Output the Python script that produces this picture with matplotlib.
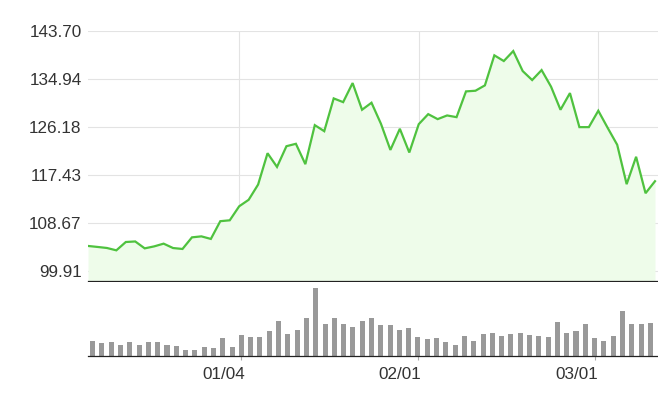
import matplotlib
matplotlib.use("Agg")
import matplotlib.pyplot as plt
import matplotlib.transforms as mtransforms
import numpy as np

# closing prices, one per trading day
prices = [104.48, 104.30, 104.11, 103.68, 105.20, 105.30, 104.04, 104.40, 104.90, 104.10,
          103.93, 106.05, 106.23, 105.76, 109.00, 109.16, 111.72, 112.90, 115.68, 121.40,
          118.90, 122.68, 123.12, 119.40, 126.52, 125.42, 131.40, 130.72, 134.20, 129.33,
          130.61, 126.77, 122.00, 125.86, 121.53, 126.70, 128.53, 127.62, 128.29, 127.98,
          132.68, 132.80, 133.78, 139.26, 138.22, 140.04, 136.39, 134.75, 136.57, 133.54,
          129.33, 132.37, 126.16, 126.16, 129.15, 126.00, 122.94, 115.75, 120.75, 114.10,
          116.29]

# volume (relative units)
volumes = [15.3, 13.7, 14.3, 11.3, 14.3, 11.3, 14.3, 14.3, 11.3, 10.3,
           6.3, 6.3, 9.3, 8.3, 18.3, 9.3, 21.3, 19.3, 19.3, 25.3,
           35.3, 22.3, 26.3, 38.3, 68.7, 32.3, 38.3, 32.3, 29.3, 35.3,
           38.3, 31.3, 31.3, 26.3, 28.3, 19.3, 17.3, 18.3, 14.3, 11.3,
           20.3, 15.3, 22.3, 23.3, 20.3, 22.3, 23.3, 21.3, 20.3, 19.3,
           34.3, 23.3, 25.3, 32.3, 18.3, 15.3, 20.3, 45.3, 32.3, 32.3,
           33.3]

y_ticks = [99.91, 108.67, 117.43, 126.18, 134.94, 143.70]
date_idx = [16, 35, 54]
date_labels = ["01/04", "02/01", "03/01"]

plt.rcParams['font.family'] = ['Liberation Sans', 'DejaVu Sans']
W, H = 658, 408
fig = plt.figure(figsize=(W / 100, H / 100), dpi=100)

grid_c = "#e3e3e3"
text_c = "#333333"

# price panel
ax = fig.add_axes([88 / W, (H - 281) / H, 570 / W, 250 / H])
x = np.arange(len(prices))
ax.fill_between(x, prices, 90, color="#eefcea", lw=0)
ax.plot(x, prices, color="#4fc23f", lw=1.6, solid_joinstyle="miter")
ax.set_xlim(0, 60 * 570 / 567)
ax.set_ylim(98.085, 143.70)
ax.set_yticks(y_ticks)
ax.set_yticklabels(["%.2f" % v for v in y_ticks])
ax.set_xticks(date_idx)
ax.set_xticklabels([])
ax.grid(True, color=grid_c, lw=0.8)
ax.set_axisbelow(True)
for s in ["top", "right", "left"]:
    ax.spines[s].set_visible(False)
ax.spines["bottom"].set_color("#222222")
ax.spines["bottom"].set_linewidth(0.9)
ax.tick_params(axis="y", length=0, pad=4.5, labelsize=12.3, labelcolor=text_c)
ax.tick_params(axis="x", length=1.5, color="#aaaaaa")

# volume panel
bx = fig.add_axes([88 / W, (H - 356.3) / H, 570 / W, 74 / H])
bx.bar(np.arange(len(volumes)) + 0.5, volumes, width=0.54, color="#999999")
bx.set_xlim(0, 570 / (567 / 61))
bx.set_ylim(0, 74)
bx.set_yticks([])
bx.set_xticks([i + 0.5 for i in date_idx])
bx.set_xticklabels(date_labels, ha="right")
bx.tick_params(axis="x", length=3, color="#aaaaaa", pad=5, labelsize=12.3,
               labelcolor=text_c)
offset = mtransforms.ScaledTranslation(3.5 / 100, 0, fig.dpi_scale_trans)
for lab in bx.get_xticklabels():
    lab.set_transform(lab.get_transform() + offset)
for s in ["top", "right", "left"]:
    bx.spines[s].set_visible(False)
bx.spines["bottom"].set_color("#222222")
bx.spines["bottom"].set_linewidth(0.9)

fig.savefig("out.png", dpi=100)
